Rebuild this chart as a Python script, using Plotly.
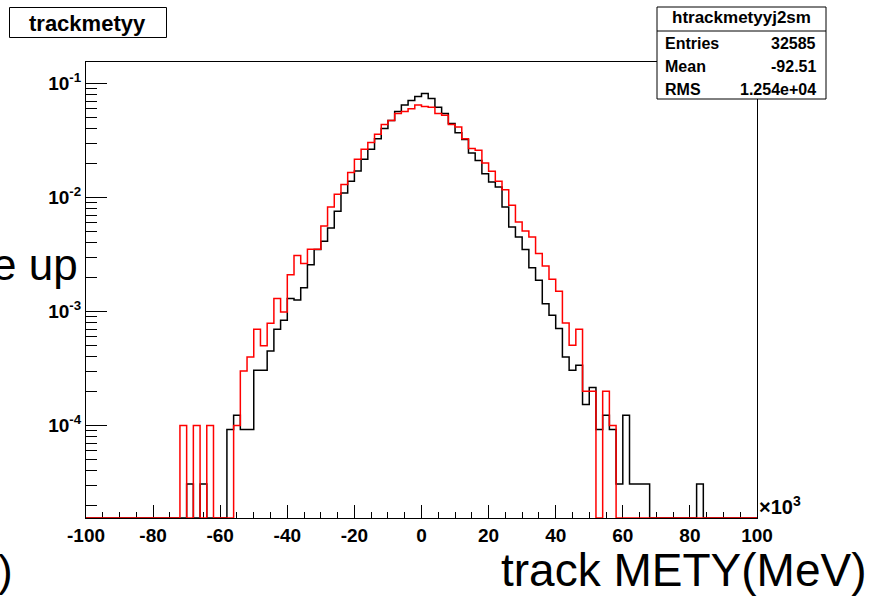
import plotly.graph_objects as go

# ---------------- data ----------------
bin_low = -100.0      # x10^3 MeV
bin_width = 2.0
n_bins = 100

black_vals = [
    0, 0, 0, 0, 0, 0, 0, 0, 0, 0,            # -100 .. -82
    0, 0, 0, 0,                              # -80 .. -74
    0, 3.07e-5, 0, 3.07e-5, 0, 0,            # -72 .. -62
    0, 9.2e-5, 1.23e-4, 9.2e-5,              # -60 .. -54
    9.2e-5, 3.05e-4, 3.05e-4, 4.5e-4, 7.0e-4, 8.4e-4,   # -52 .. -42
    1.3e-3, 1.26e-3, 1.62e-3, 2.58e-3, 3.5e-3, 4.14e-3, # -40 .. -30
    5.42e-3, 7.6e-3, 1.10e-2, 1.39e-2, 1.71e-2, 2.17e-2, # -28 .. -18
    2.65e-2, 3.29e-2, 4.03e-2, 4.76e-2, 5.7e-2, 6.5e-2, # -16 .. -6
    7.1e-2, 7.7e-2,                                      # -4, -2
    8.2e-2, 7.4e-2, 6.2e-2, 5.46e-2, 4.46e-2, 3.71e-2,  # 0 .. 10
    3.24e-2, 2.46e-2, 2.12e-2, 1.62e-2, 1.37e-2, 1.24e-2, # 12 .. 22
    8.28e-3, 5.52e-3, 4.51e-3, 3.5e-3, 2.42e-3, 1.88e-3,  # 24 .. 34
    1.17e-3, 9.27e-4, 7.08e-4, 4.0e-4, 3.05e-4, 3.38e-4,  # 36 .. 46
    1.53e-4, 2.15e-4, 9.2e-5, 1.23e-4, 9.2e-5, 3.07e-5,   # 48 .. 58
    1.23e-4, 3.07e-5, 3.07e-5, 3.07e-5,                   # 60 .. 66
    0, 0, 0, 0, 0, 0, 0,                                  # 68 .. 80
    3.07e-5,                                              # 82
    0, 0, 0, 0, 0, 0, 0, 0,                               # 84 .. 98
]

red_vals = [
    0, 0, 0, 0, 0, 0, 0, 0, 0, 0,
    0, 0, 0, 0,
    1.0e-4, 0, 1.0e-4, 0, 1.0e-4, 0,         # -72 .. -62
    0, 0, 1.0e-4, 3.0e-4,                    # -60 .. -54
    4.0e-4, 7.0e-4, 5.0e-4, 7.9e-4, 1.3e-3, 9.9e-4,      # -52 .. -42
    2.1e-3, 3.1e-3, 2.64e-3, 3.52e-3, 3.52e-3, 5.64e-3,  # -40 .. -30
    8.28e-3, 1.07e-2, 1.30e-2, 1.66e-2, 2.17e-2, 2.65e-2, # -28 .. -18
    3.04e-2, 3.59e-2, 4.39e-2, 4.76e-2, 5.46e-2, 5.71e-2, # -16 .. -6
    6.03e-2, 6.5e-2,                                       # -4, -2
    6.3e-2, 6.2e-2, 5.46e-2, 5.27e-2, 4.37e-2, 4.17e-2,   # 0 .. 10
    3.29e-2, 2.69e-2, 2.6e-2, 2.01e-2, 1.70e-2, 1.39e-2,  # 12 .. 22
    1.17e-2, 8.57e-3, 6.11e-3, 5.09e-3, 4.51e-3, 3.23e-3, # 24 .. 34
    2.51e-3, 1.92e-3, 1.51e-3, 7.94e-4, 5.06e-4, 7.0e-4,  # 36 .. 46
    2.0e-4, 2.0e-4, 0, 2.0e-4, 1.0e-4, 0,                 # 48 .. 58
    0, 0, 0, 0,
    0, 0, 0, 0, 0, 0, 0,
    0,
    0, 0, 0, 0, 0, 0, 0, 0,
]

x_tick_vals = [-100, -80, -60, -40, -20, 0, 20, 40, 60, 80, 100]
x_tick_labels = ["-100", "-80", "-60", "-40", "-20", "0", "20", "40", "60", "80", "100"]
y_tick_vals = [1e-4, 1e-3, 1e-2, 1e-1]
y_tick_labels = ["10<sup>-4</sup>", "10<sup>-3</sup>", "10<sup>-2</sup>", "10<sup>-1</sup>"]

hist_title = "trackmetyy"
stats_name = "htrackmetyyj2sm"
stats_labels = ["Entries", "Mean", "RMS"]
stats_values = ["32585", "-92.51", "1.254e+04"]

# ---------------- figure ----------------
W, H = 873, 598
L, R, T, B = 86, 757, 62, 518
LOG_MIN, LOG_MAX = -4.812, -0.81
ymin_val = 10 ** LOG_MIN

edges = [bin_low + bin_width * i for i in range(n_bins + 1)]


def step_y(vals):
    v = [max(a, ymin_val) for a in vals]
    return v + [v[-1]]


def px(xpix):
    return (xpix - L) / (R - L)


def py(ypix):
    return (B - ypix) / (B - T)


FONT = "Liberation Sans, Arial, Helvetica, sans-serif"

fig = go.Figure()
fig.add_trace(go.Scatter(x=edges, y=step_y(black_vals), mode="lines",
                         line=dict(color="black", width=1.5, shape="hv"),
                         hoverinfo="skip"))
fig.add_trace(go.Scatter(x=edges, y=step_y(red_vals), mode="lines",
                         line=dict(color="#ff0000", width=1.5, shape="hv"),
                         hoverinfo="skip"))

fig.update_layout(
    width=W, height=H,
    margin=dict(l=L, r=W - R, t=T, b=H - B, pad=0),
    plot_bgcolor="white", paper_bgcolor="white",
    showlegend=False,
    font=dict(family=FONT, color="black"),
)

fig.update_xaxes(
    range=[-100, 100], tickmode="array", tickvals=x_tick_vals, ticktext=x_tick_labels,
    ticks="inside", ticklen=13, tickwidth=1, tickcolor="black",
    showline=True, linecolor="black", linewidth=1, mirror=True,
    showgrid=False, zeroline=False, layer="below traces",
    minor=dict(ticks="inside", ticklen=6, tickwidth=1, tickcolor="black", dtick=5, tick0=0, showgrid=False),
    tickfont=dict(family=FONT, size=19, color="black", weight="bold"),
)
fig.update_yaxes(
    type="log", range=[LOG_MIN, LOG_MAX], tickmode="array",
    tickvals=y_tick_vals, ticktext=y_tick_labels,
    ticks="inside", ticklen=21, tickwidth=1, tickcolor="black",
    showline=True, linecolor="black", linewidth=1, mirror=True,
    showgrid=False, zeroline=False, layer="below traces",
    minor=dict(ticks="inside", ticklen=11, tickwidth=1, tickcolor="black", dtick="D1", showgrid=False),
    tickfont=dict(family=FONT, size=19, color="black", weight="bold"),
)

shapes = []
anns = []

# title box
shapes.append(dict(type="rect", xref="paper", yref="paper",
                   x0=px(9.5), x1=px(166.5), y0=py(37.5), y1=py(7.5),
                   line=dict(color="black", width=1), fillcolor="white", layer="above"))
anns.append(dict(xref="paper", yref="paper", x=px(87), y=py(23), text=hist_title,
                 showarrow=False, xanchor="center", yanchor="middle",
                 font=dict(family=FONT, size=22, color="black", weight="bold")))

# stats box
shapes.append(dict(type="rect", xref="paper", yref="paper",
                   x0=px(657), x1=px(826), y0=py(99), y1=py(7),
                   line=dict(color="black", width=1), fillcolor="white", layer="above"))
shapes.append(dict(type="line", xref="paper", yref="paper",
                   x0=px(657), x1=px(826), y0=py(31), y1=py(31),
                   line=dict(color="black", width=1), layer="above"))
anns.append(dict(xref="paper", yref="paper", x=px(741.5), y=py(18), text=stats_name,
                 showarrow=False, xanchor="center", yanchor="middle",
                 font=dict(family=FONT, size=17, color="black", weight="bold")))
for i, (lab, val) in enumerate(zip(stats_labels, stats_values)):
    yc = [43.5, 66.5, 89][i]
    anns.append(dict(xref="paper", yref="paper", x=px(663), y=py(yc), text=lab,
                     showarrow=False, xanchor="left", yanchor="middle",
                     font=dict(family=FONT, size=16, color="black", weight="bold")))
    anns.append(dict(xref="paper", yref="paper", x=px(818), y=py(yc), text=val,
                     showarrow=False, xanchor="right", yanchor="middle",
                     font=dict(family=FONT, size=16, color="black", weight="bold")))

# x10^3 label
anns.append(dict(xref="paper", yref="paper", x=px(757), y=py(505), text="×10<sup>3</sup>",
                 showarrow=False, xanchor="left", yanchor="middle",
                 font=dict(family=FONT, size=20, color="black", weight="bold")))

# clipped slide texts
anns.append(dict(xref="paper", yref="paper", x=px(868), y=py(570), text="track METY(MeV)",
                 showarrow=False, xanchor="right", yanchor="middle",
                 font=dict(family=FONT, size=46, color="black")))
anns.append(dict(xref="paper", yref="paper", x=px(80), y=py(264), text="e up",
                 showarrow=False, xanchor="right", yanchor="middle",
                 font=dict(family=FONT, size=44, color="black")))
anns.append(dict(xref="paper", yref="paper", x=px(15), y=py(570), text=")",
                 showarrow=False, xanchor="right", yanchor="middle",
                 font=dict(family=FONT, size=44, color="black")))

fig.update_layout(shapes=shapes, annotations=anns)

fig.write_html("out.html", config={"displayModeBar": False},
               post_script="document.body.style.margin='0';")
